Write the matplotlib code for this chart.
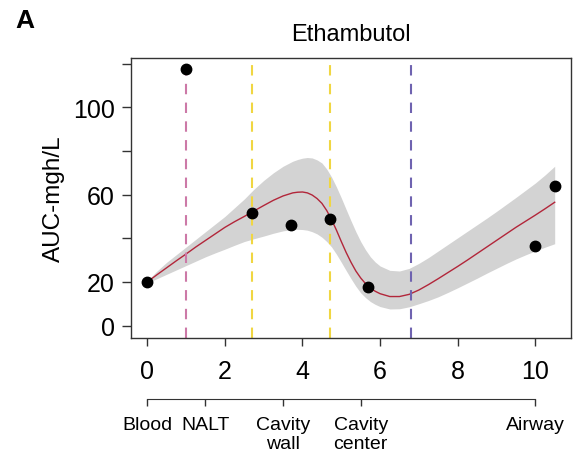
import matplotlib
matplotlib.use('Agg')
import matplotlib.pyplot as plt

plt.rcParams['font.family'] = ['Liberation Sans', 'DejaVu Sans']

# measured AUC per compartment position
pos = [0, 1.0, 2.7, 3.7, 4.7, 5.7, 10.0, 10.5]
auc = [20, 117.6, 51.8, 46.0, 49.0, 17.8, 36.5, 64.0]

# smoothed fit and its confidence band
fit_x = [0, 0.25, 0.5, 0.75, 1.0, 1.25, 1.5, 1.75, 2.0, 2.25, 2.5, 2.75,
         3.0, 3.25, 3.5, 3.75, 3.875, 4.0, 4.125, 4.25, 4.375, 4.5, 4.625,
         4.75, 4.875, 5.0, 5.125, 5.25, 5.375, 5.5, 5.625, 5.75, 5.875,
         6.0, 6.25, 6.5, 6.75, 7.0, 7.25, 7.5, 7.75, 8.0, 8.25, 8.5, 8.75,
         9.0, 9.25, 9.5, 9.75, 10.0, 10.25, 10.5]
fit_y = [20, 23.3, 26.5, 29.7, 32.8, 36, 39, 42, 45, 47.6, 50, 52.5,
         55, 57.4, 59.4, 60.8, 61.1, 61.2, 60.8, 59.8, 58.2, 56, 52.7,
         48.5, 43.7, 38.5, 33.5, 29, 25, 21.8, 19.2, 17.2, 15.7,
         14.6, 13.3, 13.3, 14.3, 16.3, 18.8, 21.5, 24.3, 27.1, 30, 33, 36,
         39, 42, 45, 47.8, 50.6, 53.5, 56.5]
fit_hi = [20.5, 25, 29, 32.5, 36, 39.5, 43, 46.5, 50, 54, 58, 62.5,
          66.5, 70, 73, 75.3, 76.1, 76.7, 77, 76.8, 75.9, 74.5, 71.7,
          68, 63.5, 58.5, 53.2, 48, 43, 38.5, 34.7, 31.5, 29.1,
          27.3, 25.3, 25, 26.2, 28.5, 31.2, 34.2, 37.2, 40.2, 43.2, 46.2, 49.2,
          52.3, 55.5, 58.7, 62, 65.3, 69, 73]
fit_lo = [19.5, 21.5, 23.5, 25.5, 27.5, 29.5, 31.5, 33.3, 35, 36.8, 38.5, 39.8,
          41, 42.3, 43.4, 44, 44.1, 44, 43.7, 43, 42, 40.5, 38.5,
          36, 32.7, 29, 25.2, 21.5, 18, 15, 12.8, 11, 9.7,
          8.7, 7.6, 7.7, 8.6, 10, 11.5, 13.2, 15.2, 17.3, 19.5, 21.7, 24,
          26.2, 28.4, 30.5, 32.4, 34.2, 35.9, 37.5]

# compartment boundaries
vlines = [1.0, 2.7, 4.7, 6.8]
vcolors = ['#CC79A7', '#F0D642', '#F0D642', '#6F63B0']

sites = ['Blood', 'NALT', 'Cavity\nwall', 'Cavity\ncenter', 'Airway']
site_pos = [0, 1.5, 3.5, 5.5, 10]

fig = plt.figure(figsize=(5.73, 4.6), dpi=100)
ax = fig.add_axes([131/573, 1-339/460, 440/573, 280/460])

ax.fill_between(fit_x, fit_lo, fit_hi, color='#d3d3d3', lw=0)
ax.plot(fit_x, fit_y, color='#b2263a', lw=1.0)
for v, c in zip(vlines, vcolors):
    ax.axvline(v, color=c, lw=1.5, dashes=(5, 4))
ax.plot(pos, auc, 'o', color='black', ms=7.5, zorder=5)

ax.set_xlim(-0.42, 10.92)
ax.set_ylim(-5.7, 122.6)
ax.set_xticks([0, 2, 4, 6, 8, 10])
ax.set_yticks([0, 20, 40, 60, 80, 100, 120])
ax.set_yticklabels(['0', '20', '', '60', '', '100', ''])
ax.tick_params(axis='x', length=6, width=1, color='#333333', labelsize=18, pad=9)
ax.tick_params(axis='y', length=6.5, width=1, color='#333333', labelsize=18, pad=5)
for s in ax.spines.values():
    s.set_color('#333333')
    s.set_linewidth(1.0)
ax.set_ylabel('AUC-mgh/L', fontsize=17.5, labelpad=6)
ax.set_title('Ethambutol', fontsize=17, pad=13)
fig.text(15/573, 1-21/460, 'A', fontsize=19, fontweight='bold', va='center')

# compartment axis under the plot
ax2 = fig.add_axes([131/573, 1-400/460, 440/573, 0.001])
ax2.set_xlim(ax.get_xlim())
ax2.set_yticks([])
for k in ['top', 'left', 'right']:
    ax2.spines[k].set_visible(False)
ax2.spines['bottom'].set_bounds(0, 10)
ax2.spines['bottom'].set_color('#333333')
ax2.patch.set_visible(False)
ax2.set_xticks(site_pos)
ax2.set_xticklabels(sites, fontsize=14, linespacing=1.15)
ax2.tick_params(axis='x', length=5, width=1, color='#333333', pad=7)

fig.savefig('out.png', dpi=100)
